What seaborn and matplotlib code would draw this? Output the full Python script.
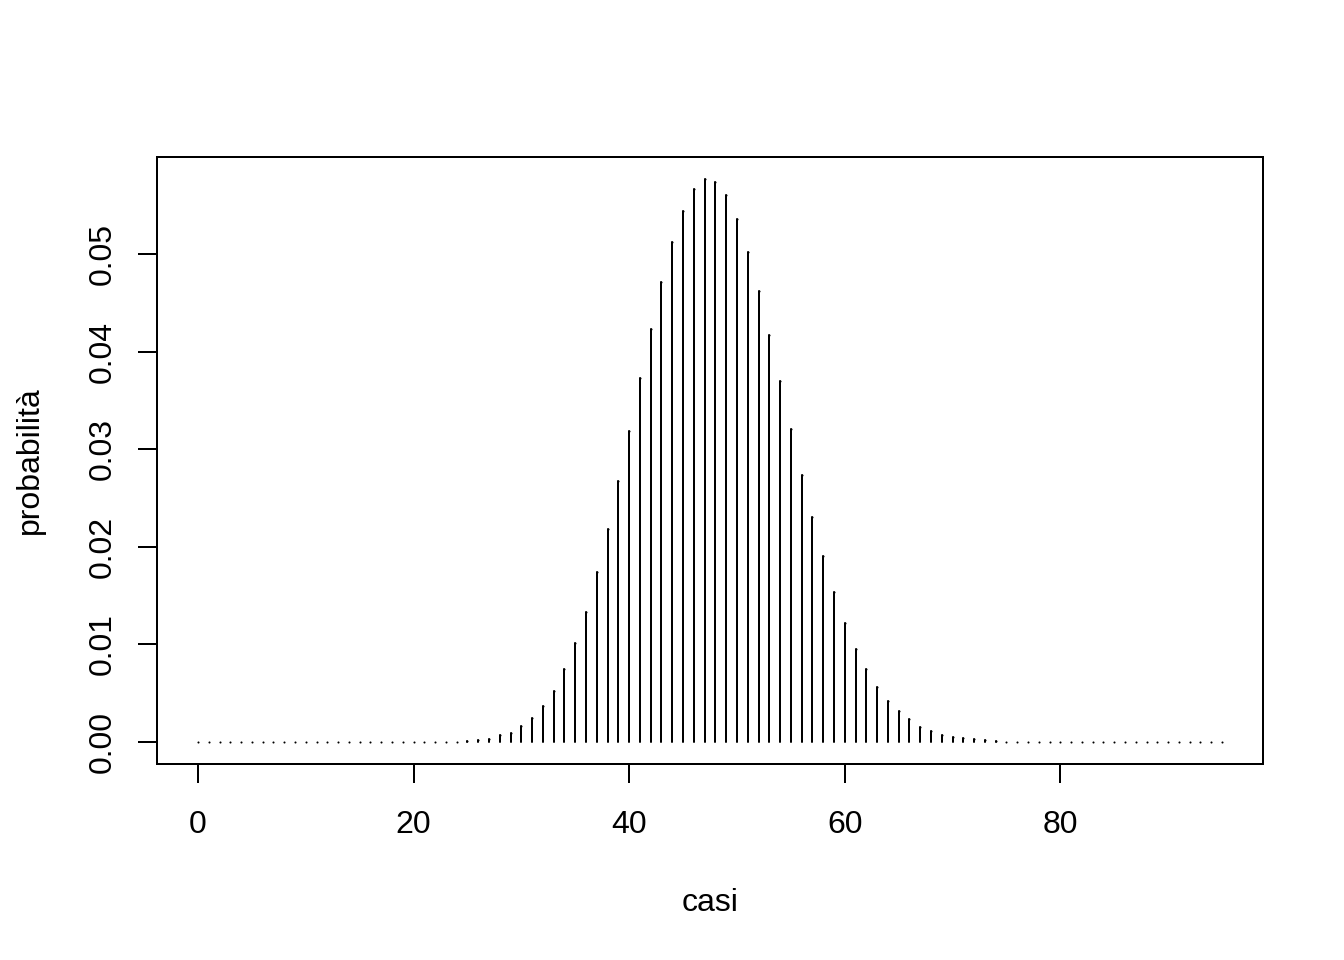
import numpy as np
import pandas as pd
import matplotlib
matplotlib.use("Agg")
import matplotlib.pyplot as plt
import seaborn as sns

# Data (x = 0..95)
casi = list(range(0, 96))
prob_low = [0.0] * 25                      # x = 0..24 (essentially zero)
prob_mid = [0.00010, 0.00020, 0.00030, 0.00065, 0.00090,   # 25-29
            0.00160, 0.00240, 0.00360, 0.00520, 0.00740,   # 30-34
            0.01010, 0.01330, 0.01740, 0.02180, 0.02670,   # 35-39
            0.03190, 0.03730, 0.04240, 0.04720, 0.05130,   # 40-44
            0.05450, 0.05670, 0.05770, 0.05740, 0.05610,   # 45-49
            0.05360, 0.05030, 0.04620, 0.04170, 0.03700,   # 50-54
            0.03210, 0.02740, 0.02300, 0.01900, 0.01540,   # 55-59
            0.01220, 0.00950, 0.00740, 0.00560, 0.00420,   # 60-64
            0.00310, 0.00230, 0.00150, 0.00110, 0.00070,   # 65-69
            0.00050, 0.00040, 0.00030, 0.00020, 0.00010]   # 70-74
prob_high = [0.0] * 21                     # x = 75..95
probabilita = prob_low + prob_mid + prob_high

x_ticks = [0, 20, 40, 60, 80]
y_ticks = [0.00, 0.01, 0.02, 0.03, 0.04, 0.05]
y_ticklabels = ["0.00", "0.01", "0.02", "0.03", "0.04", "0.05"]

df = pd.DataFrame({"casi": casi, "probabilita": probabilita})

sns.set_theme(style="white")
plt.rcParams["font.family"] = ["Liberation Sans", "DejaVu Sans"]
plt.rcParams["font.size"] = 12

fig = plt.figure(figsize=(7, 5), dpi=192)
ax = fig.add_axes([157 / 1344, 1 - 764 / 960, (1263 - 157) / 1344, (764 - 157) / 960])

# type="h" style vertical lines
ax.vlines(df["casi"], 0, df["probabilita"], color="black", linewidth=0.75,
          capstyle="round")
# tiny dots where values are essentially zero (R draws round caps)
sns.scatterplot(data=df, x="casi", y="probabilita", ax=ax, s=0.6,
                color="black", linewidth=0, legend=False)

xmin, xmax = min(casi), max(casi)
ymax = max(probabilita)
ax.set_xlim(xmin - 0.04 * (xmax - xmin), xmax + 0.04 * (xmax - xmin))
ax.set_ylim(-0.04 * ymax, ymax * 1.04)

ax.set_xticks(x_ticks)
ax.set_xticklabels([str(t) for t in x_ticks], fontsize=12)
ax.set_yticks(y_ticks)
ax.set_yticklabels(y_ticklabels, rotation=90, va="center", fontsize=12)

ax.tick_params(axis="both", which="major", direction="out", length=7.2,
               width=0.75, color="black", labelcolor="black",
               bottom=True, left=True, top=False, right=False)
ax.tick_params(axis="x", pad=10)
ax.tick_params(axis="y", pad=7.5)

for sp in ax.spines.values():
    sp.set_visible(True)
    sp.set_color("black")
    sp.set_linewidth(0.75)

ax.set_xlabel("casi", fontsize=12, color="black", labelpad=18)
ax.set_ylabel("probabilità", fontsize=12, color="black", labelpad=16)
ax.grid(False)
ax.set_facecolor("white")

fig.savefig("out.png", dpi=192, facecolor="white")
